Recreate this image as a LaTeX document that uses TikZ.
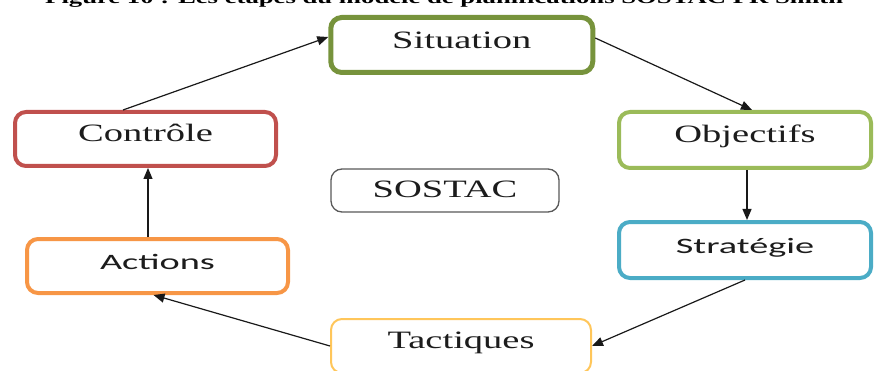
\documentclass[tikz,border=0pt]{standalone}
\usepackage{fontspec}
\setmainfont{Liberation Serif}
% wide faces for the stage labels
\newfontfamily\stageserif[FakeStretch=1.54]{Liberation Serif}
\newfontfamily\stagesans[FakeStretch=1.74]{Carlito}
\newfontfamily\captionfont[FakeStretch=1.5]{Liberation Serif}
\usetikzlibrary{arrows.meta}

\definecolor{sitgreen}{HTML}{77933C}
\definecolor{ctlred}{HTML}{C0504D}
\definecolor{objgreen}{HTML}{9BBB59}
\definecolor{strblue}{HTML}{4BACC6}
\definecolor{actorange}{HTML}{F79646}
\definecolor{tacyellow}{HTML}{FFC65A}
\definecolor{sosgray}{HTML}{595959}
\definecolor{labelink}{HTML}{1C1C1C}

\begin{document}
\begin{tikzpicture}[x=1pt,y=-1pt,
  stage/.style={draw, rounded corners=11pt, fill=white, inner sep=0pt, text=labelink},
  serifstage/.style={font=\stageserif\fontsize{25}{30}\selectfont, text height=16.5pt},
  sansstage/.style={font=\stagesans\fontsize{22}{26}\selectfont, text height=14.2pt},
  arr/.style={-{Triangle[length=11pt,width=9pt]}, line width=1.2pt, draw=black!90}]

\useasboundingbox (0,0) rectangle (874,371);

% caption line, cut by the top edge
\node[anchor=base west, inner sep=0pt] (caption) at (45,4)
  {\resizebox{798pt}{!}{\captionfont\bfseries Figure 10 : Les étapes du modèle de planifications SOSTAC PR Smith}};

% the six stages
\node[stage, serifstage, draw=sitgreen, line width=5pt,
      minimum width=262pt, minimum height=55pt, text depth=10pt] (sit) at (461.75,45) {Situation};
\node[stage, serifstage, draw=objgreen, line width=4pt,
      minimum width=252pt, minimum height=56pt, text depth=12pt] (obj) at (745,140) {Objectifs};
\node[stage, sansstage, draw=strblue, line width=4pt,
      minimum width=252pt, minimum height=56pt, text depth=7pt] (str) at (745,250) {Stratégie};
\node[stage, serifstage, draw=tacyellow, line width=2pt,
      minimum width=260pt, minimum height=54pt, text depth=11pt] (tac) at (461,346) {Tactiques};
\node[stage, sansstage, draw=actorange, line width=4pt,
      minimum width=261pt, minimum height=54pt, text depth=8pt] (act) at (157.5,266) {Actions};
\node[stage, serifstage, draw=ctlred, line width=4pt,
      minimum width=261pt, minimum height=54pt, text depth=11pt] (ctl) at (145.5,139) {Contrôle};

% centre label
\node[stage, serifstage, draw=sosgray, line width=1.3pt,
      minimum width=228pt, minimum height=43pt, text depth=2pt] (sos) at (445,190.5) {SOSTAC};

% cycle arrows
\draw[arr] ([yshift=7pt]sit.east) -- ([xshift=7pt]obj.north);
\draw[arr] ([xshift=2pt]obj.south) -- ([xshift=2pt]str.north);
\draw[arr] (str.south) -- (tac.east);
\draw[arr] (tac.west) -- ([xshift=-4pt]act.south);
\draw[arr] ([xshift=-9.5pt]act.north) coordinate (up) -- (up |- ctl.south);
\draw[arr] ([xshift=-22.5pt]ctl.north) -- ([yshift=8pt]sit.west);
\end{tikzpicture}
\end{document}
